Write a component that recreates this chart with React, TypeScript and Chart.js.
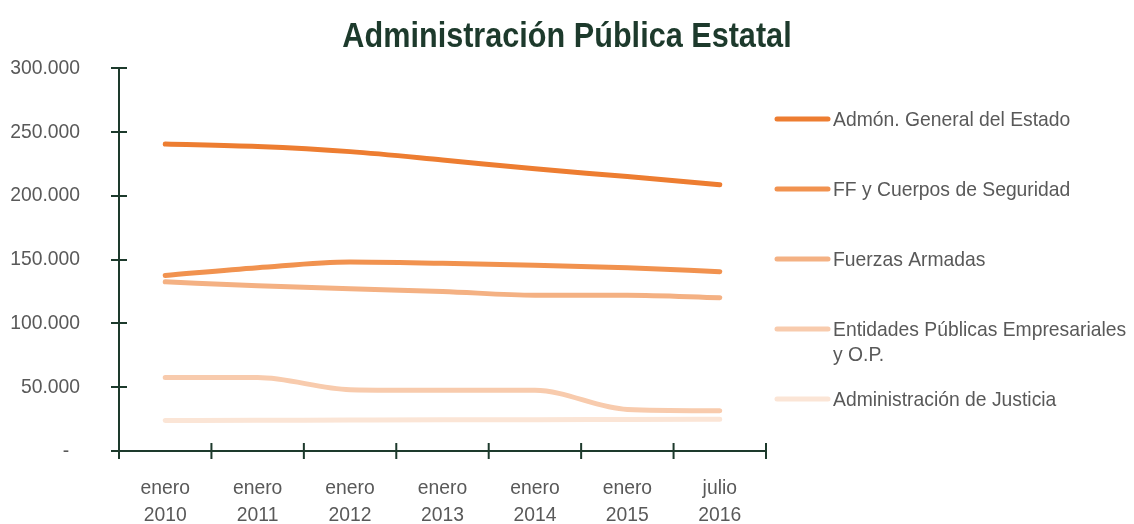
import React, { useEffect, useRef } from "react";
import { Chart, registerables } from "chart.js";

Chart.register(...registerables);

const TITLE = "Administración Pública Estatal";
const categories: string[][] = [
  ["enero", "2010"],
  ["enero", "2011"],
  ["enero", "2012"],
  ["enero", "2013"],
  ["enero", "2014"],
  ["enero", "2015"],
  ["julio", "2016"],
];
const seriesNames: (string | string[])[] = [
  "Admón. General del Estado",
  "FF y Cuerpos de Seguridad",
  "Fuerzas Armadas",
  ["Entidades Públicas Empresariales", "y O.P."],
  "Administración de Justicia",
];
const admonGeneral = [240500, 238500, 234500, 228000, 221000, 215000, 208500];
const ffCuerpos = [137500, 143500, 148000, 147000, 145500, 143500, 140500];
const fuerzasArmadas = [132500, 129500, 127000, 125000, 122000, 122000, 120000];
const entidades = [57500, 57500, 48000, 47500, 47500, 32500, 31500];
const justicia = [23800, 24000, 24300, 24500, 24500, 24700, 24800];
const seriesColors = ["#ED7D31", "#F1924F", "#F4B183", "#F8CBAD", "#FBE5D6"];
const yTicks = [0, 50000, 100000, 150000, 200000, 250000, 300000];

const AXIS = "#1D3A2C";
const TEXT = "#595959";
const FONT = "'Liberation Sans', Arial, sans-serif";
const SX = 0.92;

function fmt(v: number): string {
  if (v === 0) return "-  ";
  return String(v).replace(/\B(?=(\d{3})+(?!\d))/g, ".");
}

function squeezedText(ctx: any, text: string, x: number, y: number, sx: number) {
  ctx.save();
  ctx.translate(x, y);
  ctx.scale(sx, 1);
  ctx.fillText(text, 0, 0);
  ctx.restore();
}

const axesPlugin = {
  id: "customAxes",
  afterDatasetsDraw(chart: any) {
    const { ctx, chartArea, scales } = chart;
    const x = scales.x;
    const y = scales.y;
    ctx.save();
    ctx.strokeStyle = AXIS;
    ctx.lineWidth = 2;
    ctx.beginPath();
    ctx.moveTo(chartArea.left, chartArea.top);
    ctx.lineTo(chartArea.left, chartArea.bottom + 8);
    ctx.moveTo(chartArea.left - 8, chartArea.bottom);
    ctx.lineTo(chartArea.right, chartArea.bottom);
    for (const t of yTicks) {
      const py = Math.round(y.getPixelForValue(t));
      ctx.moveTo(chartArea.left - 8, py);
      ctx.lineTo(chartArea.left + 8, py);
    }
    const n = categories.length;
    for (let i = 0; i <= n; i++) {
      const px = chartArea.left + ((chartArea.right - chartArea.left) * i) / n;
      ctx.moveTo(px, chartArea.bottom - 8);
      ctx.lineTo(px, chartArea.bottom + 8);
    }
    ctx.stroke();

    ctx.fillStyle = TEXT;
    ctx.font = "21px " + FONT;
    ctx.textAlign = "right";
    ctx.textBaseline = "middle";
    for (const t of yTicks) {
      squeezedText(ctx, fmt(t), 80, y.getPixelForValue(t), SX);
    }
    ctx.textAlign = "center";
    ctx.textBaseline = "alphabetic";
    categories.forEach((lab, i) => {
      const px = x.getPixelForValue(i);
      lab.forEach((l, j) => squeezedText(ctx, l, px, 494 + j * 27, SX));
    });
    ctx.restore();
  },
};

const titleLegendPlugin = {
  id: "titleLegend",
  afterDraw(chart: any) {
    const { ctx } = chart;
    ctx.save();
    ctx.fillStyle = AXIS;
    ctx.font = "bold 35px " + FONT;
    ctx.textAlign = "center";
    ctx.textBaseline = "alphabetic";
    squeezedText(ctx, TITLE, chart.width / 2, 47, 0.875);

    const ds = chart.data.datasets;
    ctx.font = "21px " + FONT;
    ctx.textAlign = "left";
    ctx.lineCap = "round";
    for (let i = 0; i < ds.length; i++) {
      const yy = 119 + i * 70;
      ctx.strokeStyle = ds[i].borderColor;
      ctx.lineWidth = 5;
      ctx.beginPath();
      ctx.moveTo(777, yy);
      ctx.lineTo(828, yy);
      ctx.stroke();
      ctx.fillStyle = TEXT;
      const lab = seriesNames[i];
      const lines = Array.isArray(lab) ? lab : [lab];
      lines.forEach((l, j) => squeezedText(ctx, l, 833, yy + 7 + j * 25, SX));
    }
    ctx.restore();
  },
};

export default function App() {
  const ref = useRef<HTMLCanvasElement>(null);
  useEffect(() => {
    document.body.style.margin = "0";
    const allData = [admonGeneral, ffCuerpos, fuerzasArmadas, entidades, justicia];
    const chart = new Chart(ref.current as HTMLCanvasElement, {
      type: "line",
      data: {
        labels: categories.map((c) => c.join(" ")),
        datasets: allData.map((d, i) => ({
          label: Array.isArray(seriesNames[i]) ? (seriesNames[i] as string[]).join(" ") : (seriesNames[i] as string),
          data: d,
          borderColor: seriesColors[i],
          backgroundColor: seriesColors[i],
          borderWidth: 5,
          borderCapStyle: "round",
          borderJoinStyle: "round",
          pointRadius: 0,
          cubicInterpolationMode: "monotone",
          fill: false,
        })),
      },
      options: {
        responsive: false,
        animation: false,
        layout: { padding: { top: 68, right: 368, bottom: 0, left: 0 } },
        plugins: { legend: { display: false }, title: { display: false }, tooltip: { enabled: false } },
        scales: {
          x: {
            offset: true,
            grid: { display: false },
            border: { display: false },
            ticks: { display: false },
            afterFit: (s: any) => {
              s.height = 73;
            },
          },
          y: {
            min: 0,
            max: 300000,
            grid: { display: false },
            border: { display: false },
            ticks: { display: false, stepSize: 50000 },
            afterFit: (s: any) => {
              s.width = 119;
            },
          },
        },
      },
      plugins: [axesPlugin, titleLegendPlugin],
    } as any);
    return () => chart.destroy();
  }, []);
  return (
    <div style={{ width: 1134, height: 524, background: "#fff" }}>
      <canvas ref={ref} width={1134} height={524} />
    </div>
  );
}
